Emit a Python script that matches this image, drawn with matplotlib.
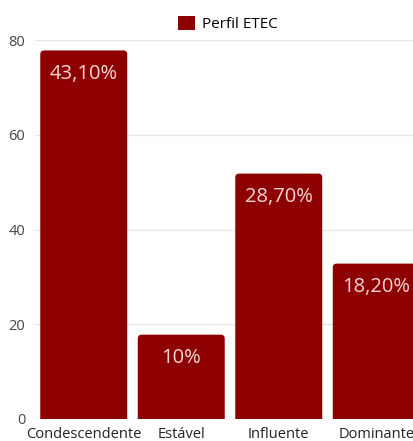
import matplotlib.pyplot as plt
from matplotlib.path import Path
from matplotlib.patches import PathPatch

# data
categories = ["Condescendente", "Estável", "Influente", "Dominante"]
values = [77.8, 17.8, 51.8, 32.8]
labels = ["43,10%", "10%", "28,70%", "18,20%"]
y_ticks = [0, 20, 40, 60, 80]

BAR_COLOR = "#8e0000"
plt.rcParams['font.family'] = ['Open Sans', 'DejaVu Sans']

fig = plt.figure(figsize=(4.14, 4.41), dpi=100)
ax = fig.add_axes([35 / 414, 22 / 441, 390 / 414, 379 / 441])

bars = ax.bar(range(len(categories)), values, width=0.892, color=BAR_COLOR,
              label="Perfil ETEC", zorder=2)

# rounded top corners (~4 px)
rx, ry = 0.04, 0.85
for b in bars:
    x0, w, h = b.get_x(), b.get_width(), b.get_height()
    x1 = x0 + w
    verts = [(x0, 0), (x0, h - ry), (x0, h), (x0 + rx, h), (x1 - rx, h),
             (x1, h), (x1, h - ry), (x1, 0), (x0, 0)]
    codes = [Path.MOVETO, Path.LINETO, Path.CURVE3, Path.CURVE3, Path.LINETO,
             Path.CURVE3, Path.CURVE3, Path.LINETO, Path.CLOSEPOLY]
    b.set_visible(False)
    ax.add_patch(PathPatch(Path(verts, codes), fc=BAR_COLOR, ec="none", zorder=2))

for i, (v, t) in enumerate(zip(values, labels)):
    ax.annotate(t, (i, v), xytext=(0, -17), textcoords="offset points",
                ha="center", va="center", color="#f2d6d6", fontsize=14.5, zorder=3)

ax.set_xlim(-0.5, 3.5)
ax.set_ylim(0, 80)
ax.set_yticks(y_ticks)
ax.set_xticks(range(len(categories)))
ax.set_xticklabels(categories, fontsize=10.5, color="#222222")
ax.tick_params(axis="y", labelsize=10.5, labelcolor="#444444", length=0, pad=7)
ax.tick_params(axis="x", length=0, pad=6)
ax.grid(axis="y", color="#e6e6e6", linewidth=1, zorder=0)
ax.set_axisbelow(True)
for s in ax.spines.values():
    s.set_visible(False)

fig.legend(handles=[plt.Rectangle((0, 0), 1, 1, fc=BAR_COLOR)], labels=["Perfil ETEC"],
           loc="center", bbox_to_anchor=(228 / 414, 1 - 24 / 441), frameon=False,
           fontsize=11, handlelength=1.1, handleheight=1.1, handletextpad=0.5)

fig.savefig("out.png", dpi=100)
